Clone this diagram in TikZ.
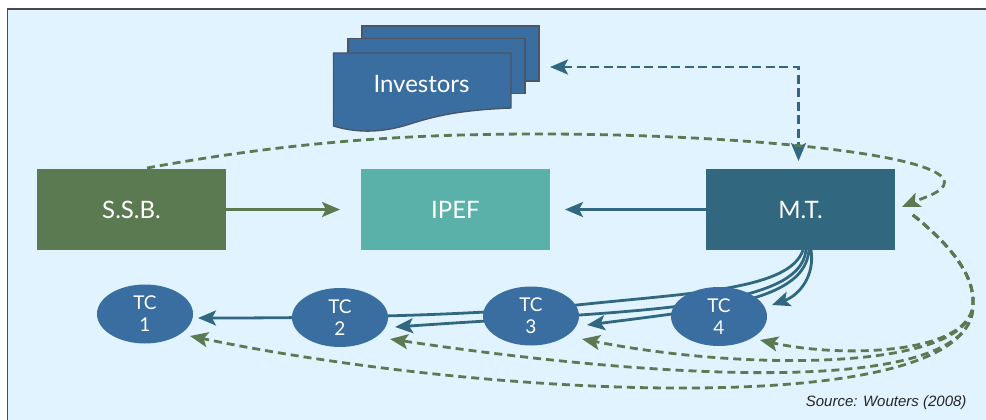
\documentclass[tikz,border=0pt]{standalone}
\usepackage{fontspec}
\setmainfont{Lato}
\newfontfamily\srcfont{Liberation Sans}
\usetikzlibrary{arrows.meta,shapes.geometric}
\definecolor{panelblue}{HTML}{E0F3FF}
\definecolor{framegray}{HTML}{4A4A4A}
\definecolor{ssbgreen}{HTML}{5B7A52}
\definecolor{ipefteal}{HTML}{5AB1AA}
\definecolor{mtblue}{HTML}{316880}
\definecolor{tcblue}{HTML}{3A6EA1}
\definecolor{docedge}{HTML}{4A5568}
\tikzset{
  mainbox/.style={rectangle, inner sep=0pt, outer sep=0pt, minimum width=189pt, minimum height=81pt,
    text=white, font=\fontsize{24}{28}\selectfont},
  tcnode/.style={ellipse, fill=tcblue, inner sep=0pt, outer sep=0pt, minimum width=96pt, minimum height=59pt,
    text=white, align=center, font=\fontsize{19}{22}\selectfont},
  docnode/.style={rectangle, draw=docedge, fill=tcblue, line width=1.4pt, inner sep=0pt, outer sep=0pt,
    minimum width=177pt, minimum height=55pt},
  tealline/.style={draw=mtblue, line width=2.8pt, -{Stealth[length=18pt,width=15pt,inset=4pt]}},
  greenline/.style={draw=ssbgreen, line width=2.8pt, -{Stealth[length=18pt,width=15pt,inset=4pt]}},
  greendash/.style={greenline, dash pattern=on 8pt off 5pt},
  tealdash/.style={draw=mtblue, line width=2.8pt, dash pattern=on 9pt off 4.5pt,
    {Stealth[length=18pt,width=15pt,inset=4pt]}-{Stealth[length=18pt,width=15pt,inset=4pt]}}
}
\begin{document}
\begin{tikzpicture}[x=1pt, y=-1pt]
  \useasboundingbox (0,0) rectangle (986,420);
  \fill[white] (0,0) rectangle (986,420);
  \fill[panelblue] (7.5,9) rectangle (986,420);
  \draw[framegray, line width=1.6pt] (7.5,420) -- (7.5,9) -- (986,9);

  % stacked investors sheets
  \node[docnode] (invback) at (450.5,53.5) {};
  \node[docnode] (invmid) at (436.5,66) {};
  \draw[draw=docedge, fill=tcblue, line width=1.4pt] (333.5,53) -- (511,53) -- (511,108)
    .. controls (460,110) and (435,116) .. (410,124)
    .. controls (385,132) and (360,134) .. (333.5,126) -- cycle;
  \node[text=white, font=\fontsize{24}{28}\selectfont] (investors) at (421.5,84) {Investors};

  % main boxes
  \node[mainbox, fill=ssbgreen] (ssb) at (131.5,209.5) {S.S.B.};
  \node[mainbox, fill=ipefteal] (ipef) at (455.5,209.5) {IPEF};
  \node[mainbox, fill=mtblue] (mt) at (800.5,209.5) {M.T.};

  \coordinate (invport) at (539,67);
  \coordinate (tcfan) at (913,215);
  \coordinate (tcbend) at (973,305);
  \coordinate (tipone) at (190,336);
  \coordinate (tiptwo) at (390,339);
  \coordinate (tipthree) at (582,339);
  \coordinate (tipfour) at (760,340);

  % arrows leaving M.T., they pass behind the ellipses
  \draw[tealline] (811,250) .. controls (815,275) and (800,295) .. (772,305);
  \draw[tealline] (809,250) .. controls (805,300) and (720,308) .. (587,325);
  \draw[tealline] (806,250) .. controls (800,310) and (640,310) .. (395,327);
  \draw[tealline] (803,250) .. controls (790,290) and (690,293) .. (577,305)
    .. controls (480,315) and (350,318) .. (198,318);

  \node[tcnode] (tcone) at (145,314) {TC\\1};
  \node[tcnode] (tctwo) at (340,317.5) {TC\\2};
  \node[tcnode] (tcthree) at (531,316) {TC\\3};
  \node[tcnode] (tcfour) at (719,316.5) {TC\\4};

  \draw[tealdash] (invport) ++(11,0) -| ([shift={(-2pt,8pt)}]mt.north);
  \draw[greenline] (ssb.east) -- ([xshift=-21pt]ipef.west);
  \draw[tealline] (mt.west) -- ([xshift=15pt]ipef.east);

  % S.S.B. over the top round to M.T.
  \draw[greendash] (147,168) .. controls (300,140) and (420,134) .. (540,134)
    .. controls (710,134) and (920,150) .. (943,178)
    .. controls (951,190) and (925,197) .. (902,207);

  % fan from the right down to the ellipses
  \draw[greendash] (tcfan) .. controls (950,245) and (975,275) .. (tcbend)
    .. controls (968,355) and (840,358) .. (tipfour);
  \draw[greendash] (tcfan) .. controls (950,245) and (975,275) .. (tcbend)
    .. controls (970,370) and (750,372) .. (tipthree);
  \draw[greendash] (tcfan) .. controls (950,245) and (975,275) .. (tcbend)
    .. controls (975,400) and (650,378) .. (tiptwo);
  \draw[greendash] (tcfan) .. controls (950,245) and (975,275) .. (tcbend)
    .. controls (975,420) and (500,400) .. (tipone);

  \node[anchor=east, font=\srcfont\itshape\fontsize{15}{17}\selectfont, text=black!85] (source) at (970,403) {Source: Wouters (2008)};
\end{tikzpicture}
\end{document}
